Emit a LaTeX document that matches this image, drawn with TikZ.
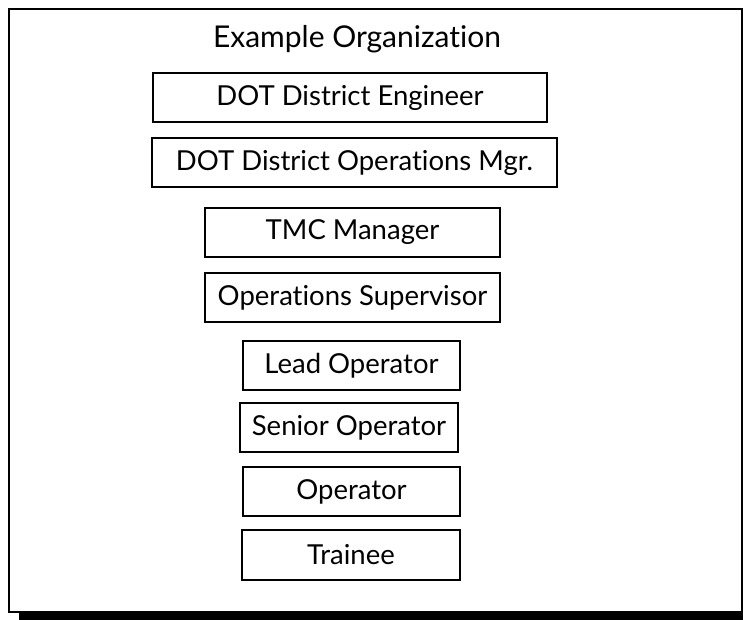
\documentclass[tikz,border=0pt]{standalone}
\usepackage{fontspec}
\setmainfont{Lato}[Ligatures={NoCommon,NoContextual}]
\begin{document}
\begin{tikzpicture}[x=1pt,y=-1pt,
  rolebox/.style={draw=black, line width=2pt, fill=white, inner sep=0pt,
    minimum height=49pt, font=\fontsize{27.5}{32}\selectfont},
  heading/.style={font=\fontsize{30}{34}\selectfont, inner sep=0pt, anchor=base}]
  \useasboundingbox (0,0) rectangle (743,620);
  \clip (0,0) rectangle (743,620);
  % outer frame with drop shadow
  \fill[black] (19,17) rectangle (752,621);
  \draw[line width=2pt, fill=white] (9,9) rectangle (741.5,612);
  % title
  \node[heading] (title) at (357,48) {Example Organization};
  % role boxes, top to bottom
  \node[rolebox, minimum width=394pt] (eng)  at (350,97.5)  {DOT District Engineer};
  \node[rolebox, minimum width=405pt] (ops)  at (354.5,162.5) {DOT District Operations Mgr.};
  \node[rolebox, minimum width=295pt] (tmc)  at (352.5,232.5) {TMC Manager};
  \node[rolebox, minimum width=295pt] (sup)  at (352.5,297.5) {Operations Supervisor};
  \node[rolebox, minimum width=217pt] (lead) at (351.5,365.5) {Lead Operator};
  \node[rolebox, minimum width=218pt] (sen)  at (349,427.5)   {Senior Operator};
  \node[rolebox, minimum width=217pt] (op)   at (351.5,491.5) {Operator};
  \node[rolebox, minimum width=218pt, minimum height=50pt] (tr) at (351,555) {Trainee};
\end{tikzpicture}
\end{document}
